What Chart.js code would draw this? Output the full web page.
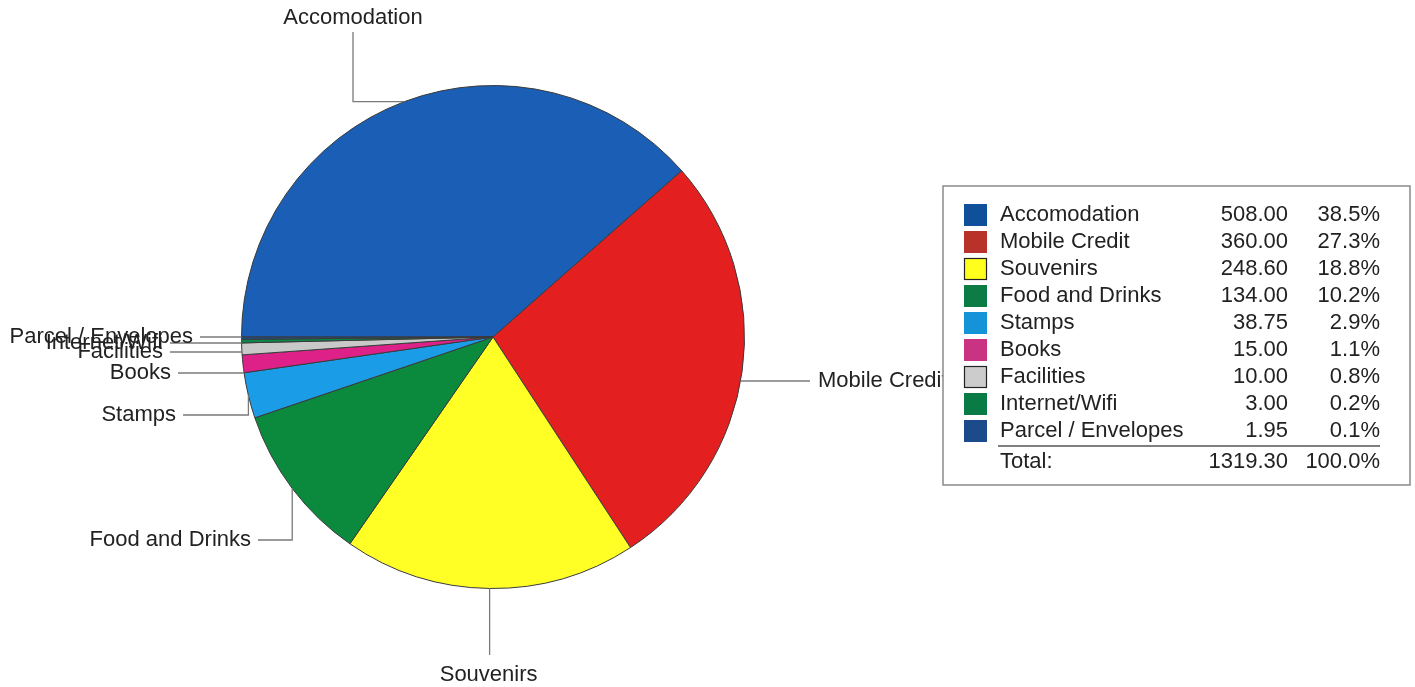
<!DOCTYPE html>
<html>
<head>
<meta charset="utf-8">
<script src="https://cdn.jsdelivr.net/npm/chart.js@4/dist/chart.umd.min.js"></script>
<style>
    html, body { margin: 0; padding: 0; background: #fff; }
    #c { display: block; }
</style>
</head>
<body>
<canvas id="c" width="1415" height="687"></canvas>
<script>
// ===== DATI =====
const categories = ['Accomodation', 'Mobile Credit', 'Souvenirs', 'Food and Drinks', 'Stamps', 'Books', 'Facilities', 'Internet/Wifi', 'Parcel / Envelopes'];
const amounts = [508.00, 360.00, 248.60, 134.00, 38.75, 15.00, 10.00, 3.00, 1.95];
const sliceColors = ['#1a5eb5', '#e41f1f', '#ffff26', '#0b8a3e', '#1a9de6', '#de2189', '#c9c9c9', '#0b8747', '#1f4e8f'];
const swatchColors = ['#10509b', '#b8322a', '#ffff1e', '#0c7b46', '#1493d9', '#c93381', '#cccccc', '#0b7b46', '#1b4b8b'];

const FONT = '22px "Liberation Sans", Arial, sans-serif';

// Posizione etichette (relativa al centro della torta) e tipo di percorso della linea guida
// hv: orizzontale poi verticale, vh: verticale poi orizzontale, h: orizzontale dal bordo
const labelLayout = [
    { dx: -140, dy: -305, route: 'hv', align: 'center', pos: 'above' },
    { dx: 317, dy: 44, route: 'h', align: 'left' },
    { dx: null, dy: 318, route: 'vh', align: 'center', pos: 'below' },
    { dx: -235, dy: 203, route: 'vh', align: 'right' },
    { dx: -310, dy: 78, route: 'vh', align: 'right' },
    { dx: -315, dy: 36, route: 'h', align: 'right' },
    { dx: -323, dy: 15, route: 'h', align: 'right' },
    { dx: -323, dy: 6, route: 'h', align: 'right' },
    { dx: -293, dy: 0, route: 'h', align: 'right' }
];

const leaderLabels = {
    id: 'leaderLabels',
    afterDatasetsDraw(chart) {
        const ctx = chart.ctx;
        const arcs = chart.getDatasetMeta(0).data;
        ctx.save();
        ctx.font = FONT;
        ctx.fillStyle = '#222';
        ctx.strokeStyle = '#7a7a7a';
        ctx.lineWidth = 1.3;
        arcs.forEach((arc, i) => {
            const p = arc.getProps(['x', 'y', 'startAngle', 'endAngle', 'outerRadius'], true);
            const mid = (p.startAngle + p.endAngle) / 2;
            const ax = p.x + Math.cos(mid) * p.outerRadius;
            const ay = p.y + Math.sin(mid) * p.outerRadius;
            const L = labelLayout[i];
            const ex = L.dx === null ? ax : p.x + L.dx;
            const ey = p.y + L.dy;
            ctx.beginPath();
            if (L.route === 'hv') {
                ctx.moveTo(ax, ay); ctx.lineTo(ex, ay); ctx.lineTo(ex, ey);
            } else if (L.route === 'vh') {
                ctx.moveTo(ax, ay); ctx.lineTo(ax, ey); ctx.lineTo(ex, ey);
            } else {
                const half = Math.sqrt(Math.max(0, p.outerRadius * p.outerRadius - L.dy * L.dy));
                const sx = L.dx > 0 ? p.x + half : p.x - half;
                ctx.moveTo(sx, ey); ctx.lineTo(ex, ey);
            }
            ctx.stroke();

            ctx.textBaseline = 'middle';
            if (L.pos === 'above') {
                ctx.textAlign = 'center';
                ctx.fillText(categories[i], ex, ey - 14);
            } else if (L.pos === 'below') {
                ctx.textAlign = 'center';
                ctx.fillText(categories[i], ex - 1, ey + 20);
            } else if (L.align === 'left') {
                ctx.textAlign = 'left';
                ctx.fillText(categories[i], ex + 8, ey);
            } else {
                ctx.textAlign = 'right';
                ctx.fillText(categories[i], ex - 7, ey);
            }
        });
        ctx.restore();
    }
};

const tableLegend = {
    id: 'tableLegend',
    afterDraw(chart) {
        const ctx = chart.ctx;
        const total = amounts.reduce((s, v) => s + v, 0);
        const bx = 943, by = 186, bw = 467, bh = 299;
        ctx.save();
        ctx.fillStyle = '#fff';
        ctx.fillRect(bx, by, bw, bh);
        ctx.strokeStyle = '#8a8a8a';
        ctx.lineWidth = 1.5;
        ctx.strokeRect(bx, by, bw, bh);

        ctx.font = FONT;
        ctx.textBaseline = 'middle';
        const rowH = 27;
        const y0 = 215;
        categories.forEach((name, i) => {
            const y = y0 + i * rowH;
            ctx.fillStyle = swatchColors[i];
            ctx.fillRect(964, y - 11, 23, 22);
            if (i === 2 || i === 6) {
                ctx.strokeStyle = '#222';
                ctx.lineWidth = 1.2;
                ctx.strokeRect(964.5, y - 10.5, 22, 21);
            }
            ctx.fillStyle = '#222';
            ctx.textAlign = 'left';
            ctx.fillText(name, 1000, y);
            ctx.textAlign = 'right';
            ctx.fillText(amounts[i].toFixed(2), 1288, y);
            ctx.fillText((amounts[i] / total * 100).toFixed(1) + '%', 1380, y);
        });

        // linea del totale
        ctx.strokeStyle = '#555';
        ctx.lineWidth = 1.5;
        ctx.beginPath();
        ctx.moveTo(998, 446);
        ctx.lineTo(1380, 446);
        ctx.stroke();

        const ty = 462;
        ctx.fillStyle = '#222';
        ctx.textAlign = 'left';
        ctx.fillText('Total:', 1000, ty);
        ctx.textAlign = 'right';
        ctx.fillText(total.toFixed(2), 1288, ty);
        ctx.fillText('100.0%', 1380, ty);
        ctx.restore();
    }
};

new Chart(document.getElementById('c'), {
    type: 'pie',
    data: {
        labels: categories,
        datasets: [{
            data: amounts,
            backgroundColor: sliceColors,
            borderColor: '#3a3a3a',
            borderWidth: 1
        }]
    },
    options: {
        responsive: false,
        animation: false,
        rotation: -90,
        layout: {
            padding: { top: 85, bottom: 98, left: 241, right: 670 }
        },
        plugins: {
            legend: { display: false },
            tooltip: { enabled: false }
        }
    },
    plugins: [leaderLabels, tableLegend]
});
</script>
</body>
</html>
